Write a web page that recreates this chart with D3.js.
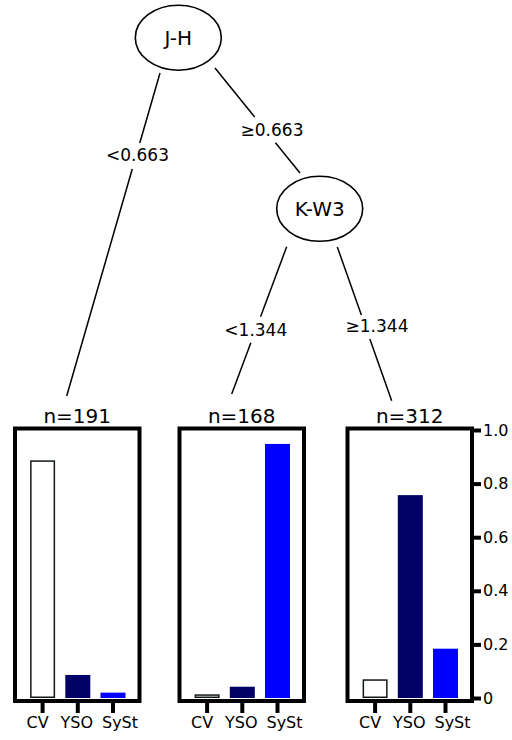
<!DOCTYPE html>
<html><head><meta charset="utf-8">
<script src="https://cdn.jsdelivr.net/npm/d3@7"></script>
<style>body{margin:0;background:#fff}svg{display:block}text{font-family:"DejaVu Sans",sans-serif;fill:#000}</style>
</head><body>
<script>
// ---- data ----
const classes = ["CV", "YSO", "SySt"];
const nodeCounts = [191, 168, 312];
const cvShare = [0.884, 0.011, 0.067];
const ysoShare = [0.086, 0.042, 0.757];
const systShare = [0.02, 0.948, 0.184];
const splitVars = ["J-H", "K-W3"];
const splitLabels = ["<0.663", "≥0.663", "<1.344", "≥1.344"];
const yTicks = [0, 0.2, 0.4, 0.6, 0.8, 1.0];
const yTickLabels = ["0", "0.2", "0.4", "0.6", "0.8", "1.0"];

// ---- layout ----
const W = 512, H = 740;
const svg = d3.select("body").append("svg").attr("width", W).attr("height", H);
const colors = ["#ffffff", "#000066", "#0000ff"];
const labelShift = [-5, -1, 7];
const panelX = [15, 179.5, 347.5];
const panelW = 124.5;
const boxTop = 428.5, boxBot = 701;
const y = d3.scaleLinear().domain([0, 1]).range([698, 430]);

// tree nodes (ellipses)
const nodes = [
  {label: splitVars[0], cx: 178.3, cy: 37.7},
  {label: splitVars[1], cx: 319.7, cy: 208.8}
];
const edges = [
  {x1: 160, y1: 73, x2: 66.7, y2: 396, lx: 137.5, ly: 155, g0: 143, g1: 169, t: splitLabels[0]},
  {x1: 215, y1: 68, x2: 300, y2: 173, lx: 272, ly: 130, g0: 117, g1: 142.7, t: splitLabels[1]},
  {x1: 286.7, y1: 246.7, x2: 231.7, y2: 394, lx: 255.8, ly: 330, g0: 316.7, g1: 342.7, t: splitLabels[2]},
  {x1: 337.3, y1: 247, x2: 391.7, y2: 400.7, lx: 377, ly: 326, g0: 315, g1: 339, t: splitLabels[3]}
];
edges.forEach(e => {
  const xAt = yy => e.x1 + (e.x2 - e.x1) * (yy - e.y1) / (e.y2 - e.y1);
  svg.append("line").attr("x1", e.x1).attr("y1", e.y1).attr("x2", xAt(e.g0)).attr("y2", e.g0)
    .attr("stroke", "#000").attr("stroke-width", 1.5);
  svg.append("line").attr("x1", xAt(e.g1)).attr("y1", e.g1).attr("x2", e.x2).attr("y2", e.y2)
    .attr("stroke", "#000").attr("stroke-width", 1.5);
  svg.append("text").attr("x", e.lx).attr("y", e.ly).attr("text-anchor", "middle")
    .attr("dominant-baseline", "central").style("font-size", "17px").text(e.t);
});
nodes.forEach(n => {
  svg.append("ellipse").attr("cx", n.cx).attr("cy", n.cy).attr("rx", 43).attr("ry", 32.5)
    .attr("fill", "#fff").attr("stroke", "#000").attr("stroke-width", 1.6);
  svg.append("text").attr("x", n.cx).attr("y", n.cy).attr("text-anchor", "middle")
    .attr("dominant-baseline", "central").style("font-size", "20px").text(n.label);
});

// terminal panels
nodeCounts.forEach((n, i) => {
  const x0 = panelX[i];
  const g = svg.append("g");
  const x = d3.scaleBand().domain(classes).range([x0 + 10, x0 + 115.6]).paddingInner(0.29).paddingOuter(0.145);
  const vals = [cvShare[i], ysoShare[i], systShare[i]];
  g.append("text").attr("x", x0 + panelW / 2).attr("y", 423).attr("text-anchor", "middle")
    .style("font-size", "20px").text("n=" + n);
  g.selectAll("rect.bar").data(classes).enter().append("rect").attr("class", "bar")
    .attr("x", (c, k) => x(c) + (k === 0 ? 0.75 : 0))
    .attr("width", (c, k) => x.bandwidth() - (k === 0 ? 1.5 : 0))
    .attr("y", (c, k) => y(vals[k]))
    .attr("height", (c, k) => y(0) - y(vals[k]) - (k === 0 ? 0.75 : 0))
    .attr("fill", (c, k) => colors[k])
    .attr("stroke", (c, k) => k === 0 ? "#111a11" : "none")
    .attr("stroke-width", 1.5);
  g.append("rect").attr("x", x0).attr("y", boxTop).attr("width", panelW).attr("height", boxBot - boxTop)
    .attr("fill", "none").attr("stroke", "#000").attr("stroke-width", 4);
  // bottom category axis
  const xa = g.append("g").attr("transform", `translate(0,${boxBot})`)
    .call(d3.axisBottom(x).tickSize(12).tickPadding(4));
  xa.select(".domain").remove();
  xa.selectAll(".tick line").attr("stroke", "#000").attr("stroke-width", 4);
  xa.selectAll(".tick text").style("font-size", "16px").style("font-family", "DejaVu Sans").attr("fill", "#000")
    .attr("dx", (c, k) => labelShift[k]);
  if (i === nodeCounts.length - 1) {
    const ya = g.append("g").attr("transform", `translate(${x0 + panelW},0)`)
      .call(d3.axisRight(y).tickValues(yTicks).tickFormat((d, k) => yTickLabels[k]).tickSize(9).tickPadding(2));
    ya.select(".domain").remove();
    ya.selectAll(".tick line").attr("stroke", "#000").attr("stroke-width", 4);
    ya.selectAll(".tick text").style("font-size", "16px").style("font-family", "DejaVu Sans").attr("fill", "#000");
  }
});
</script>
</body></html>
